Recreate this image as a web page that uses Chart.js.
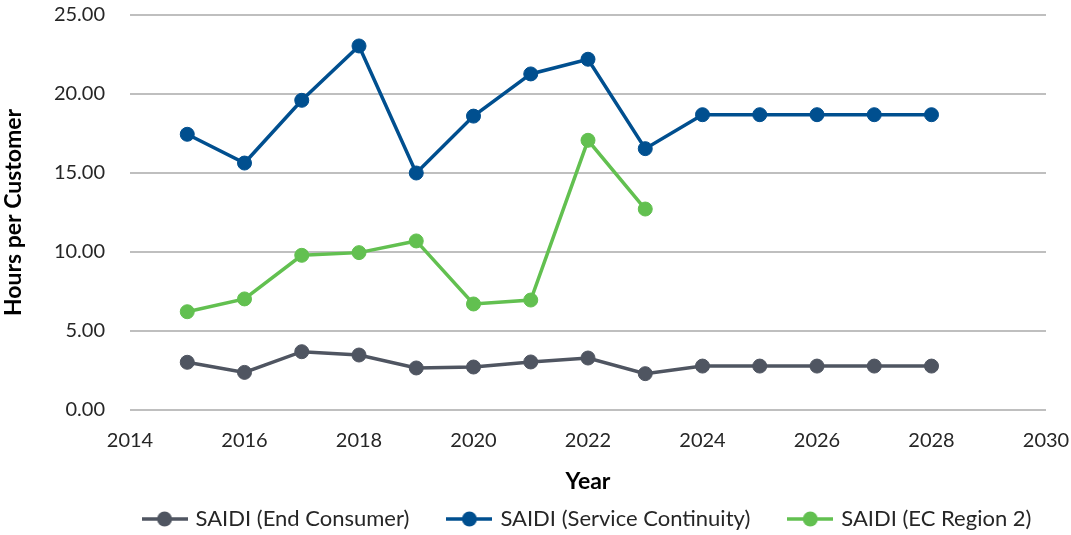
<!DOCTYPE html>
<html>
<head>
<meta charset="utf-8">
<script src="https://cdn.jsdelivr.net/npm/chart.js@4.4.1/dist/chart.umd.min.js"></script>
<style>
  html, body { margin: 0; padding: 0; background: #fff; }
  #wrap { width: 1071px; height: 535px; }
</style>
</head>
<body>
<div id="wrap"><canvas id="chart" width="1071" height="535"></canvas></div>
<script>
// ==================== DATA ====================
const years = [2015, 2016, 2017, 2018, 2019, 2020, 2021, 2022, 2023, 2024, 2025, 2026, 2027, 2028];
const endConsumer = [3.02, 2.38, 3.69, 3.48, 2.66, 2.72, 3.04, 3.29, 2.30, 2.78, 2.78, 2.78, 2.78, 2.78];
const serviceContinuity = [17.45, 15.63, 19.60, 23.04, 15.00, 18.60, 21.27, 22.20, 16.54, 18.69, 18.69, 18.69, 18.69, 18.69];
const ecRegion2 = [6.22, 7.03, 9.79, 9.96, 10.70, 6.71, 6.96, 17.07, 12.72];
const seriesNames = ['SAIDI (End Consumer)', 'SAIDI (Service Continuity)', 'SAIDI (EC Region 2)'];
const xTicks = { min: 2014, max: 2030, step: 2 };
const yTicks = { min: 0, max: 25, step: 5 };

const colors = ['#4F5561', '#004F8F', '#62C050'];
const FONT = 'Lato, "Open Sans", sans-serif';
const TEXT = '#262626';

// legend marker: line with dot in the middle, like the Excel legend
function legendMarker(color) {
  const c = document.createElement('canvas');
  c.width = 46; c.height = 18;
  const g = c.getContext('2d');
  g.strokeStyle = color;
  g.lineWidth = 3.5;
  g.beginPath(); g.moveTo(0, 9); g.lineTo(46, 9); g.stroke();
  g.fillStyle = color;
  g.beginPath(); g.arc(23, 9, 7.5, 0, Math.PI * 2); g.fill();
  return c;
}

function toPoints(vals) {
  return vals.map((v, i) => ({ x: years[i], y: v }));
}

const allSeries = [endConsumer, serviceContinuity, ecRegion2];
const datasets = allSeries.map((vals, i) => ({
  label: seriesNames[i],
  data: toPoints(vals),
  borderColor: colors[i],
  backgroundColor: colors[i],
  borderWidth: 3.5,
  pointRadius: 7,
  pointBorderWidth: 1,
  pointStyle: 'circle',
  tension: 0
}));
const markers = colors.map(legendMarker);

// center the legend under the plot area, not the whole canvas
const legendUnderPlot = {
  id: 'legendUnderPlot',
  afterLayout(chart) {
    chart.legend.left = chart.chartArea.left - 80;
    chart.legend.right = chart.chartArea.right + 80;
  }
};

new Chart(document.getElementById('chart'), {
  type: 'line',
  data: { datasets },
  plugins: [legendUnderPlot],
  options: {
    responsive: false,
    animation: false,
    layout: { autoPadding: false, padding: { left: 0, right: 25, top: 3, bottom: -5 } },
    plugins: {
      tooltip: { enabled: false },
      legend: {
        position: 'bottom',
        labels: {
          usePointStyle: true,
          pointStyleWidth: 40,
          padding: 40,
          color: TEXT,
          font: { family: FONT, size: 22 },
          generateLabels(chart) {
            return chart.data.datasets.map((ds, i) => ({
              text: ds.label,
              pointStyle: markers[i],
              fillStyle: ds.borderColor,
              strokeStyle: ds.borderColor,
              lineWidth: 0,
              hidden: false,
              datasetIndex: i,
              fontColor: TEXT
            }));
          }
        }
      }
    },
    scales: {
      x: {
        type: 'linear',
        min: xTicks.min,
        max: xTicks.max,
        grid: { display: false, drawTicks: false },
        border: { display: false },
        afterFit(scale) {
          scale.height = 58;
          scale.paddingLeft = 0;
          scale.paddingRight = 25;
        },
        ticks: {
          stepSize: xTicks.step,
          color: TEXT,
          font: { family: FONT, size: 20 },
          padding: 19,
          callback: v => String(v)
        },
        title: {
          display: true,
          text: 'Year',
          color: '#000',
          font: { family: FONT, size: 23, weight: 'bold' },
          padding: { top: 15, bottom: -27 }
        }
      },
      y: {
        min: yTicks.min,
        max: yTicks.max,
        afterFit(scale) {
          scale.width = 130;
          scale.paddingTop = 15;
          scale.paddingBottom = 0;
        },
        grid: { color: '#BFBFBF', lineWidth: 2, drawTicks: false },
        border: { display: false },
        ticks: {
          stepSize: yTicks.step,
          color: TEXT,
          font: { family: FONT, size: 20 },
          padding: 25,
          callback: v => v.toFixed(2)
        },
        title: {
          display: true,
          text: 'Hours per Customer',
          color: '#000',
          font: { family: FONT, size: 23, weight: 'bold' },
          padding: { top: 0, bottom: 0 }
        }
      }
    }
  }
});
</script>
</body>
</html>
